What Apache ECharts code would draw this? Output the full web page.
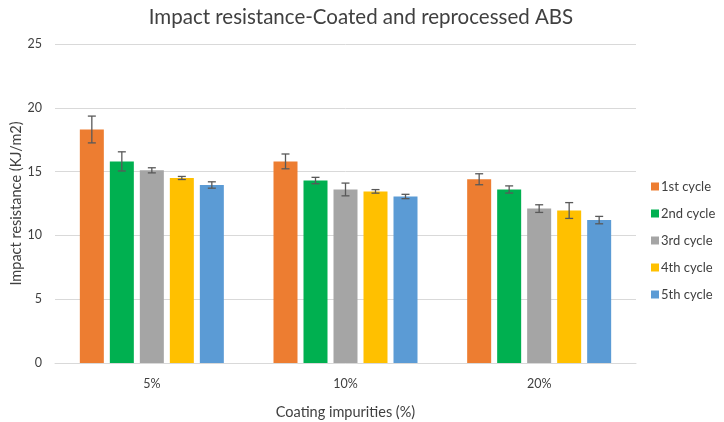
<!DOCTYPE html>
<html><head><meta charset="utf-8">
<script src="https://cdn.jsdelivr.net/npm/echarts@6/dist/echarts.min.js"></script>
<style>html,body{margin:0;padding:0;background:#fff}#c{width:724px;height:422px}</style>
</head><body><div id="c"></div>
<script>
var categories = ['5%', '10%', '20%'];
var seriesNames = ['1st cycle', '2nd cycle', '3rd cycle', '4th cycle', '5th cycle'];
var colors = ['#ED7D31', '#00B050', '#A5A5A5', '#FFC000', '#5B9BD5'];
var cycle1 = [18.3, 15.8, 14.4];
var cycle2 = [15.8, 14.3, 13.6];
var cycle3 = [15.1, 13.6, 12.1];
var cycle4 = [14.5, 13.45, 11.95];
var cycle5 = [13.95, 13.05, 11.2];
var err1 = [1.05, 0.58, 0.43];
var err2 = [0.75, 0.25, 0.28];
var err3 = [0.2, 0.5, 0.3];
var err4 = [0.12, 0.14, 0.62];
var err5 = [0.25, 0.17, 0.29];
var yTicks = [0, 5, 10, 15, 20, 25];

var values = [cycle1, cycle2, cycle3, cycle4, cycle5];
var errs = [err1, err2, err3, err4, err5];
var BW = 24, GAP = 6;
var font = 'Lato';
var series = [];
values.forEach(function (v, i) {
  series.push({
    name: seriesNames[i], type: 'bar', data: v, barWidth: BW, barGap: (GAP / BW * 100) + '%',
    itemStyle: { color: colors[i] }, z: 2
  });
});
values.forEach(function (v, i) {
  var data = v.map(function (val, k) { return [k, val, errs[i][k]]; });
  series.push({
    type: 'custom', name: seriesNames[i] + ' err', data: data, z: 5, silent: true,
    renderItem: function (params, api) {
      var k = api.value(0), val = api.value(1), e = api.value(2);
      var hi = api.coord([k, val + e]);
      var lo = api.coord([k, val - e]);
      var x = hi[0] + (i - 2) * (BW + GAP);
      var cap = 4;
      var st = { stroke: '#595959', lineWidth: 1.3 };
      return { type: 'group', children: [
        { type: 'line', shape: { x1: x, y1: hi[1], x2: x, y2: lo[1] }, style: st },
        { type: 'line', shape: { x1: x - cap, y1: hi[1], x2: x + cap, y2: hi[1] }, style: st },
        { type: 'line', shape: { x1: x - cap, y1: lo[1], x2: x + cap, y2: lo[1] }, style: st }
      ]};
    }
  });
});

var chart = echarts.init(document.getElementById('c'));
chart.setOption({
  animation: false,
  title: { text: 'Impact resistance-Coated and reprocessed ABS', left: 356, top: 2, textAlign: 'center',
    textStyle: { fontFamily: font, fontSize: 20.5, fontWeight: 'normal', color: '#404040' } },
  legend: { orient: 'vertical', left: 646, top: 175, itemWidth: 8, itemHeight: 8, itemGap: 14,
    data: seriesNames.map(function (n) { return { name: n, icon: 'rect' }; }),
    textStyle: { fontFamily: font, fontSize: 13, color: '#404040', padding: [0, 0, 0, -3] } },
  grid: { left: 55, right: 88, top: 44, bottom: 59, containLabel: false, outerBoundsMode: 'none' },
  xAxis: { type: 'category', data: categories,
    name: 'Coating impurities (%)', nameLocation: 'middle', nameGap: 42, nameMoveOverlap: false,
    nameTextStyle: { fontFamily: font, fontSize: 14.5, color: '#404040' },
    axisTick: { show: false }, axisLine: { lineStyle: { color: '#D9D9D9' } },
    axisLabel: { fontFamily: font, fontSize: 12.5, color: '#404040', margin: 14 } },
  yAxis: { type: 'value', min: yTicks[0], max: yTicks[yTicks.length - 1], interval: 5,
    name: 'Impact resistance (KJ/m2)', nameLocation: 'middle', nameGap: 31, nameMoveOverlap: false,
    nameTextStyle: { fontFamily: font, fontSize: 14.5, color: '#404040' },
    axisLine: { show: false }, axisTick: { show: false },
    splitLine: { lineStyle: { color: '#D9D9D9' } },
    axisLabel: { fontFamily: font, fontSize: 12.5, color: '#404040', margin: 13 } },
  series: series
});
</script></body></html>
